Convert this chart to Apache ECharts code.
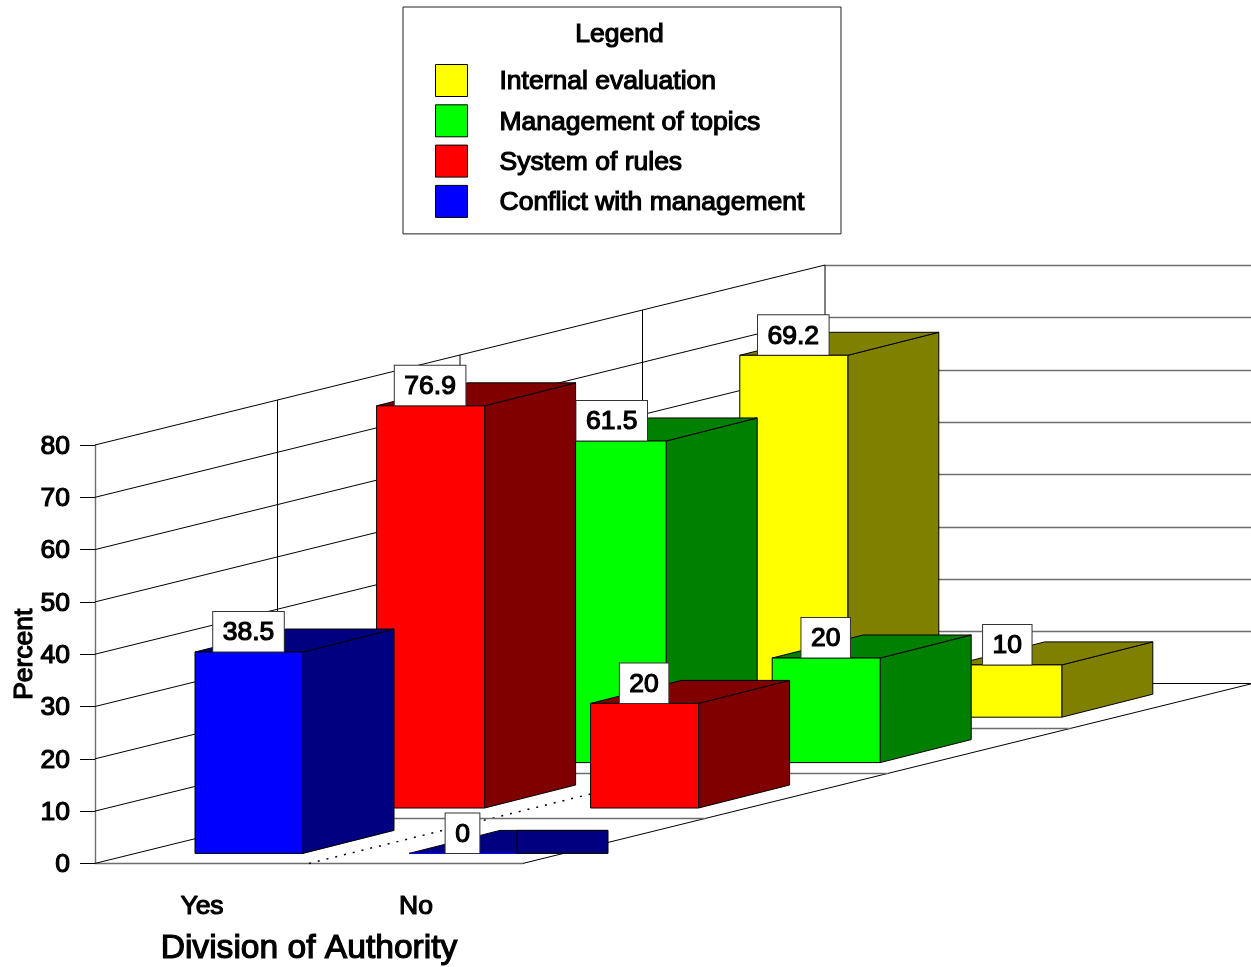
<!DOCTYPE html>
<html>
<head>
<meta charset="utf-8">
<style>html,body{margin:0;padding:0;background:#fff}#chart{width:1251px;height:967px}</style>
<script src="https://cdn.jsdelivr.net/npm/echarts@6/dist/echarts.min.js"></script>
</head>
<body>
<div id="chart"></div>
<script>
// Survey results by division of authority
const categories = ['Yes', 'No'];
const seriesNames = ['Internal evaluation', 'Management of topics', 'System of rules', 'Conflict with management'];
const internalEvaluation = [69.2, 10];
const managementOfTopics = [61.5, 20];
const systemOfRules = [76.9, 20];
const conflictWithManagement = [38.5, 0];
const percentTicks = [0, 10, 20, 30, 40, 50, 60, 70, 80];
const floorRows = [0, 1, 2, 3, 4];

const seriesValues = [internalEvaluation, managementOfTopics, systemOfRules, conflictWithManagement];
const faceColors = ['#ffff00', '#00ff00', '#ff0000', '#0000ff'];
const shadeColors = ['#808000', '#008000', '#800000', '#000080'];
const depthRows = [3, 2, 1, 0];

// Oblique projection of the depth axis
const ROW_DX = 182.5, ROW_DY = 45;      // wall and floor spacing per row
const BAR_DX = 181.6, BAR_DY = 45.4;    // bar spacing per row
const FRONT_DX = 47, FRONT_DY = 10;     // first bar's inset from the front edge
const BAR_W = 108, SIDE_DX = 91, SIDE_DY = 23;
const FONT = '"Liberation Sans", Arial, sans-serif';
const FONT_SIZE = 26.5;
const INK = '#000';
const AXIS_GREY = '#6e6e6e';
const TEXT_WEIGHT = 1.2;
const inkText = { fontFamily: FONT, fontSize: FONT_SIZE, color: INK, textBorderColor: INK, textBorderWidth: TEXT_WEIGHT };

function line(x1, y1, x2, y2, stroke, width, dash) {
  return { type: 'line', shape: { x1, y1, x2, y2 },
           style: { stroke, lineWidth: width || 1, lineDash: dash || null, fill: null } };
}

function renderWall(params, api) {
  const c = params.coordSys;
  const y = api.coord([api.value(0), api.value(1)])[1];
  const backX = c.x + 4 * ROW_DX, backY = y - 4 * ROW_DY;
  const kids = [line(c.x, y, backX, backY, INK, 1)];
  if (api.value(1) > 0) kids.push(line(backX, Math.round(backY) + 0.5, 1251, Math.round(backY) + 0.5, AXIS_GREY, 1.4));
  return { type: 'group', children: kids };
}

function renderFloor(params, api) {
  const c = params.coordSys;
  const row = api.value(1);
  const bottom = c.y + c.height;
  const right = c.x + c.width;
  const kids = [];
  if (row === 0) {
    kids.push(line(right, bottom, right + 4 * ROW_DX, bottom - 4 * ROW_DY, INK, 1));
    const midX = c.x + c.width / 2;
    kids.push(line(midX, bottom, midX + 4 * ROW_DX, bottom - 4 * ROW_DY, INK, 1.5, [2, 7]));
  } else {
    const x = c.x + row * ROW_DX, y = Math.round(bottom - row * ROW_DY) + 0.5;
    const topY = c.y - row * ROW_DY;
    kids.push(line(x, y, x, topY, INK, 1));
    kids.push(line(x, y, Math.min(x + c.width, 1251), y, row === 4 ? INK : AXIS_GREY, row === 4 ? 1 : 1.4));
  }
  return { type: 'group', children: kids };
}

function barRenderer(s) {
  return function (params, api) {
    const value = api.value(1);
    const pt = api.coord([api.value(0), value]);
    const zero = api.coord([api.value(0), 0]);
    const row = depthRows[s];
    const left = zero[0] - BAR_W / 2 + FRONT_DX + row * BAR_DX;
    const right = left + BAR_W;
    const base = zero[1] - FRONT_DY - row * BAR_DY;
    const top = base - (zero[1] - pt[1]);
    const strokeStyle = { stroke: INK, lineWidth: 1 };
    const topFace = { type: 'polygon',
      shape: { points: [[left, top], [left + SIDE_DX, top - SIDE_DY], [right + SIDE_DX, top - SIDE_DY], [right, top]] },
      style: Object.assign({ fill: shadeColors[s] }, strokeStyle) };
    const kids = [];
    if (value === 0) {
      // A bar with no height still shows a flat dark slab behind its top face
      kids.push(topFace);
      kids.push({ type: 'polygon',
        shape: { points: [[right, top - SIDE_DY], [right + SIDE_DX, top - SIDE_DY], [right + SIDE_DX, base], [right, base]] },
        style: Object.assign({ fill: shadeColors[s] }, strokeStyle) });
    } else {
      kids.push({ type: 'polygon',
        shape: { points: [[right, top], [right + SIDE_DX, top - SIDE_DY], [right + SIDE_DX, base - SIDE_DY], [right, base]] },
        style: Object.assign({ fill: shadeColors[s] }, strokeStyle) });
      kids.push(topFace);
    }
    // Front face
    kids.push({ type: 'rect',
      shape: { x: left, y: top, width: BAR_W, height: base - top },
      style: value === 0 ? { fill: faceColors[s], stroke: faceColors[s], lineWidth: 1 }
                         : Object.assign({ fill: faceColors[s] }, strokeStyle) });
    // Value tag sitting on the front face
    kids.push({ type: 'text', z2: 100, x: (left + right) / 2 - 0.5, y: top - 0.5,
      style: { text: String(value), fill: INK, font: FONT_SIZE + 'px ' + FONT,
               stroke: INK, lineWidth: TEXT_WEIGHT,
               align: 'center', verticalAlign: 'bottom',
               backgroundColor: '#fff', borderColor: '#333', borderWidth: 1,
               padding: [7.5, 9.5, 5, 9.5] } });
    return { type: 'group', children: kids };
  };
}

const barSeries = seriesNames.map((name, s) => ({
  name,
  type: 'custom',
  renderItem: barRenderer(s),
  itemStyle: { color: faceColors[s] },
  data: categories.map((c, i) => [c, seriesValues[s][i]]),
  encode: { x: 0, y: 1 },
  clip: false,
  silent: true
}));

const option = {
  animation: false,
  backgroundColor: '#fff',
  title: {
    text: 'Legend', left: 614.5, top: 16, textAlign: 'center',
    textStyle: Object.assign({ fontWeight: 'normal' }, inkText)
  },
  legend: {
    data: seriesNames,
    orient: 'vertical',
    left: 403, top: 7,
    padding: [57, 36, 16, 32],
    itemWidth: 32, itemHeight: 32, itemGap: 7.3,
    icon: 'rect',
    selectedMode: false,
    borderColor: '#222', borderWidth: 1, backgroundColor: '#fff',
    itemStyle: { borderColor: '#000', borderWidth: 1 },
    formatter: name => '{t|' + name + '}',
    textStyle: Object.assign({ padding: [0, 0, 0, 27],
      rich: { t: Object.assign({ padding: [3, 0, 0, 0] }, inkText) } }, inkText)
  },
  grid: { left: 95, top: 445, width: 428, height: 419 },
  xAxis: {
    type: 'category', data: categories, boundaryGap: true,
    name: 'Division of Authority', nameLocation: 'middle', nameGap: 68,
    nameTextStyle: { fontFamily: FONT, fontSize: 33.6, color: INK, textBorderColor: INK, textBorderWidth: TEXT_WEIGHT },
    axisLine: { lineStyle: { color: AXIS_GREY, width: 1.4 } },
    axisTick: { alignWithLabel: true, length: 16, lineStyle: { color: INK, width: 1 } },
    axisLabel: Object.assign({ margin: 30 }, inkText)
  },
  yAxis: {
    type: 'value', min: 0, max: 80, interval: 10,
    name: 'Percent', nameLocation: 'middle', nameGap: 57, nameMoveOverlap: false,
    nameTextStyle: inkText,
    splitLine: { show: false },
    axisLine: { show: true, lineStyle: { color: AXIS_GREY, width: 1.4 } },
    axisTick: { show: true, length: 15, lineStyle: { color: INK, width: 1 } },
    axisLabel: Object.assign({ margin: 25, formatter: '{v|{value}}',
      rich: { v: Object.assign({ padding: [3, 0, 0, 0] }, inkText) } }, inkText)
  },
  series: [
    { type: 'custom', renderItem: renderWall, data: percentTicks.map(v => [categories[0], v]),
      encode: { x: 0, y: 1 }, clip: false, silent: true },
    { type: 'custom', renderItem: renderFloor, data: floorRows.map(r => [categories[0], r]),
      encode: { x: 0, y: 1 }, clip: false, silent: true }
  ].concat(barSeries)
};

echarts.init(document.getElementById('chart'), null, { renderer: 'canvas' }).setOption(option);
</script>
</body>
</html>
